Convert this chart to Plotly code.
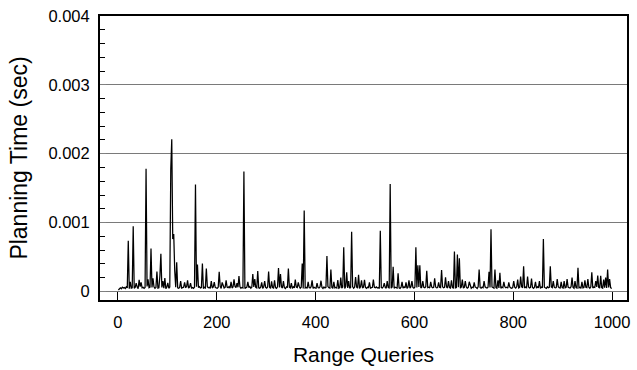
import plotly.graph_objects as go

# Query index (every second query sampled)
queries = list(range(1, 1000, 2))

# Baseline planning time in microseconds, rows of 25 values (50 queries each)
baseline_us = [
    20, 45, 52, 38, 60, 48, 55, 42, 66, 50, 58, 40, 62, 47, 53, 70, 44, 57, 49, 63, 41, 55, 68, 46, 52,
    60, 43, 57, 49, 71, 45, 54, 62, 39, 58, 50, 66, 44, 56, 73, 48, 52, 61, 42, 57, 65, 47, 55, 40, 59,
    52, 46, 63, 58, 70, 66, 80, 75, 62, 58, 51, 44, 57, 68, 49, 55, 61, 43, 58, 66, 50, 47, 62, 54, 48,
    57, 45, 60, 51, 67, 44, 58, 70, 49, 55, 63, 42, 59, 51, 46, 68, 53, 60, 44, 57, 50, 65, 41, 58, 52,
    47, 61, 55, 72, 43, 56, 64, 49, 58, 41, 62, 53, 69, 46, 57, 50, 63, 44, 72, 55, 48, 60, 52, 67, 45,
    58, 50, 66, 43, 56, 62, 48, 54, 71, 45, 59, 51, 64, 42, 57, 49, 68, 53, 46, 61, 55, 44, 63, 50, 58,
    47, 65, 52, 59, 43, 70, 54, 48, 62, 56, 45, 68, 51, 57, 44, 63, 49, 60, 53, 42, 66, 55, 48, 61, 50,
    58, 44, 67, 52, 46, 63, 55, 49, 71, 47, 60, 53, 42, 65, 51, 58, 45, 62, 54, 48, 69, 56, 43, 59, 52,
    46, 62, 55, 48, 66, 51, 57, 43, 64, 50, 59, 45, 70, 53, 47, 61, 56, 44, 67, 52, 58, 49, 63, 46, 55,
    60, 48, 65, 52, 44, 69, 57, 50, 62, 46, 58, 53, 71, 45, 59, 51, 64, 48, 56, 43, 66, 54, 49, 61, 52,
    57, 45, 63, 50, 68, 47, 55, 60, 44, 58, 52, 65, 49, 56, 43, 62, 54, 48, 67, 51, 59, 46, 63, 55, 50,
    58, 47, 64, 53, 45, 61, 56, 49, 70, 52, 44, 60, 55, 48, 66, 51, 57, 43, 62, 54, 47, 68, 50, 58, 46,
    63, 52, 57, 45, 66, 54, 49, 61, 47, 58, 53, 69, 44, 56, 62, 50, 45, 65, 53, 59, 48, 64, 51, 56, 43,
    61, 55, 48, 67, 52, 58, 45, 63, 50, 72, 54, 47, 60, 56, 44, 66, 51, 57, 49, 62, 53, 46, 65, 55, 48,
    59, 51, 64, 46, 57, 52, 68, 45, 60, 54, 49, 63, 56, 43, 67, 50, 58, 47, 62, 53, 45, 66, 55, 49, 61,
    52, 57, 44, 65, 53, 48, 62, 56, 46, 70, 51, 58, 45, 63, 54, 49, 67, 52, 60, 47, 56, 64, 50, 44, 58,
    53, 61, 47, 66, 55, 50, 59, 45, 68, 52, 57, 48, 63, 54, 46, 65, 51, 60, 49, 56, 44, 62, 55, 48, 67,
    50, 58, 45, 63, 54, 47, 61, 56, 43, 66, 52, 59, 48, 64, 55, 46, 62, 51, 57, 45, 69, 53, 49, 60, 54,
    47, 65, 52, 58, 44, 63, 55, 49, 68, 51, 57, 46, 62, 54, 48, 66, 53, 59, 45, 64, 50, 56, 47, 61, 55,
    52, 60, 46, 67, 54, 49, 63, 57, 45, 65, 51, 58, 48, 62, 55, 47, 69, 53, 59, 50, 64, 56, 61, 58, 40,
]

# Large spikes (query, microseconds)
peak_queries = [21, 31, 43, 57, 61, 67, 71, 79, 85, 87, 95, 107, 109, 111, 113, 115, 119,
                157, 161, 171, 179, 205, 245, 255, 273, 283, 305, 325, 329, 345, 373, 377,
                423, 431, 457, 463, 473, 481, 487, 499, 531, 551, 557, 567, 603, 607, 611, 625,
                655, 663, 681, 687, 691, 731, 751, 755, 763, 773, 815, 821, 829, 837, 861, 875,
                909, 919, 931, 959, 977, 991]
peak_us = [736, 946, 167, 1781, 177, 622, 190, 290, 228, 547, 195, 1772, 2208, 760, 832, 300, 423,
           1553, 390, 404, 333, 285, 224, 1743, 252, 295, 290, 338, 252, 333, 404, 1173,
           513, 319, 641, 276, 865, 209, 242, 167, 879, 1558, 356, 262, 641, 380, 380, 299,
           309, 205, 580, 537, 480, 319, 285, 903, 319, 271, 214, 366, 215, 185, 760, 366,
           180, 200, 342, 276, 225, 319]

# Small bumps (query, microseconds)
bump_queries = [25, 37, 47, 91, 101, 127, 135, 141, 147, 189, 195, 211, 219, 229, 235, 241, 263, 277,
                291, 297, 311, 317, 335, 351, 359, 365, 385, 393, 403, 411, 437, 445, 451, 467, 493,
                509, 517, 539, 545, 575, 583, 589, 595, 617, 633, 641, 649, 669, 675, 697, 703, 711,
                721, 741, 769, 781, 791, 801, 809, 845, 853, 881, 889, 897, 903, 925, 939, 945, 951,
                967, 971, 983, 987, 995]
bump_us = [140, 120, 130, 150, 125, 150, 130, 160, 120, 150, 135, 130, 160, 140, 175, 120, 140, 180,
           130, 150, 145, 160, 150, 120, 170, 130, 140, 160, 120, 155, 140, 165, 200, 150, 160,
           130, 170, 120, 150, 140, 130, 160, 150, 150, 140, 190, 130, 150, 160, 170, 150, 140,
           130, 150, 160, 140, 130, 150, 170, 140, 150, 150, 180, 140, 150, 150, 140, 160, 180,
           150, 230, 170, 200, 180]

y_tickvals = [0, 0.001, 0.002, 0.003, 0.004]
y_ticktext = ["0", "0.001", "0.002", "0.003", "0.004"]
x_tickvals = [0, 200, 400, 600, 800, 1000]

planning_us = list(baseline_us)
for q, v in zip(peak_queries + bump_queries, peak_us + bump_us):
    planning_us[(q - 1) // 2] = v
planning_sec = [v / 1e6 for v in planning_us]

fig = go.Figure(go.Scatter(x=queries, y=planning_sec, mode="lines",
                           line=dict(color="black", width=1.25)))

fig.update_layout(
    width=637, height=370,
    margin=dict(l=100, r=7, t=11, b=69),
    paper_bgcolor="white", plot_bgcolor="white",
    showlegend=False,
    font=dict(family="Liberation Sans, Arial, sans-serif", color="black"),
)

fig.update_xaxes(
    range=[-36.2, 1030.2],
    tickvals=x_tickvals,
    ticks="inside", ticklen=8, tickcolor="black", tickwidth=1,
    showline=True, linecolor="black", linewidth=2, mirror=True,
    showgrid=False, zeroline=False,
    tickfont=dict(size=16.5),
    ticklabelstandoff=6,
    title=dict(text="Range Queries", font=dict(size=21), standoff=18),
)

fig.update_yaxes(
    range=[-0.000125, 0.004],
    tickvals=y_tickvals, ticktext=y_ticktext,
    ticks="inside", ticklen=6, tickcolor="#808080", tickwidth=1,
    showline=True, linecolor="black", linewidth=2, mirror=True,
    showgrid=True, gridcolor="#7a7a7a", gridwidth=1,
    zeroline=False,
    minor=dict(dtick=0.0002, tick0=0, ticks="inside", ticklen=5,
               tickcolor="black", tickwidth=1, showgrid=False),
    tickfont=dict(size=16.5),
    ticklabelstandoff=5,
    title=dict(text="Planning Time (sec)", font=dict(size=23), standoff=14),
)

fig.write_html("out.html")
